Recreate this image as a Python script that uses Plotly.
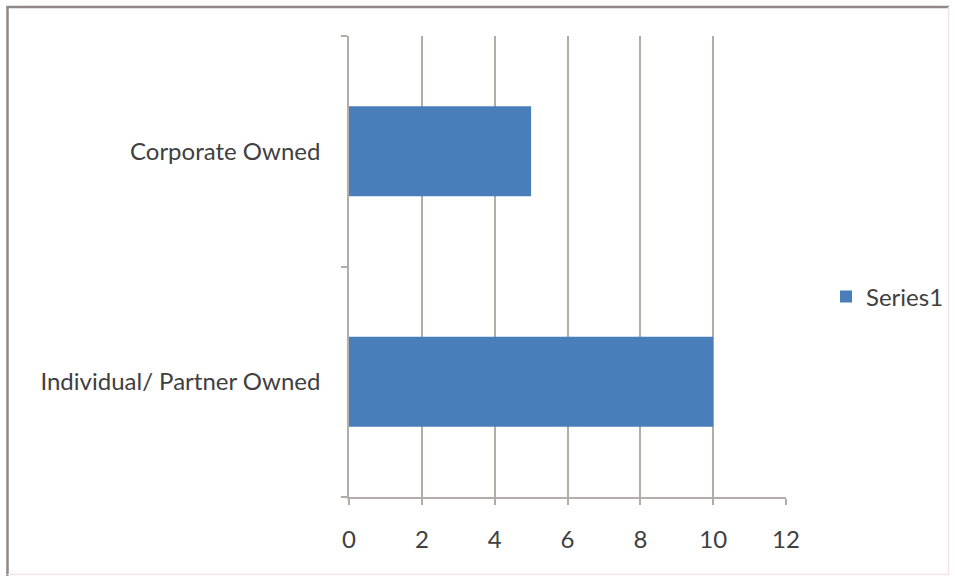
import plotly.graph_objects as go

# Ownership counts
categories = ["Individual/ Partner Owned", "Corporate Owned"]
values = [10, 5]
x_ticks = [0, 2, 4, 6, 8, 10, 12]

W, H = 955, 581
L, R, T, B = 349, 169, 36, 84
pw, ph = W - L - R, H - T - B

def px(x):
    return (x - L) / pw

def py(y):
    return (H - B - y) / ph

grid = "#b4aca9"
text = "#404040"
font = "Lato, 'Open Sans', sans-serif"

fig = go.Figure(go.Bar(
    y=categories, x=values, orientation="h", name="Series1",
    marker=dict(color="#4a7ebb", line=dict(width=0)),
    width=0.39,
))

fig.update_layout(
    width=W, height=H,
    margin=dict(l=L, r=R, t=T, b=B, autoexpand=False),
    paper_bgcolor="white", plot_bgcolor="white",
    font=dict(family=font, size=24, color=text),
    showlegend=True,
    legend=dict(x=px(826), y=py(297), xanchor="left", yanchor="middle",
                font=dict(size=24, color=text), itemwidth=30,
                bgcolor="rgba(0,0,0,0)"),
    xaxis=dict(range=[0, 12], tickvals=x_ticks, showgrid=True, gridcolor=grid,
               gridwidth=1.5, showline=True, linecolor=grid, linewidth=1.5,
               ticks="outside", ticklen=6, tickcolor=grid, tickwidth=1.5,
               zeroline=False, ticklabelstandoff=14, fixedrange=True),
    yaxis=dict(categoryorder="array", categoryarray=categories,
               showline=True, linecolor=grid, linewidth=1.5, showgrid=False,
               ticks="outside", ticklen=6, tickcolor=grid, tickwidth=1.5,
               tickson="boundaries", ticklabelstandoff=22, fixedrange=True),
    shapes=[
        # outer chart frame
        dict(type="line", xref="paper", yref="paper", x0=px(7.5), x1=px(7.5),
             y0=py(6.5), y1=py(576), line=dict(color="#8e8886", width=2.5)),
        dict(type="line", xref="paper", yref="paper", x0=px(6.5), x1=px(949),
             y0=py(7), y1=py(7), line=dict(color="#8e8886", width=2.5)),
        dict(type="line", xref="paper", yref="paper", x0=px(948.5), x1=px(948.5),
             y0=py(7), y1=py(575), line=dict(color="#f1e6e4", width=1.5)),
        dict(type="line", xref="paper", yref="paper", x0=px(7.5), x1=px(949),
             y0=py(574.5), y1=py(574.5), line=dict(color="#f1e6e4", width=1.5)),
    ],
)

fig.write_html("out.html")
